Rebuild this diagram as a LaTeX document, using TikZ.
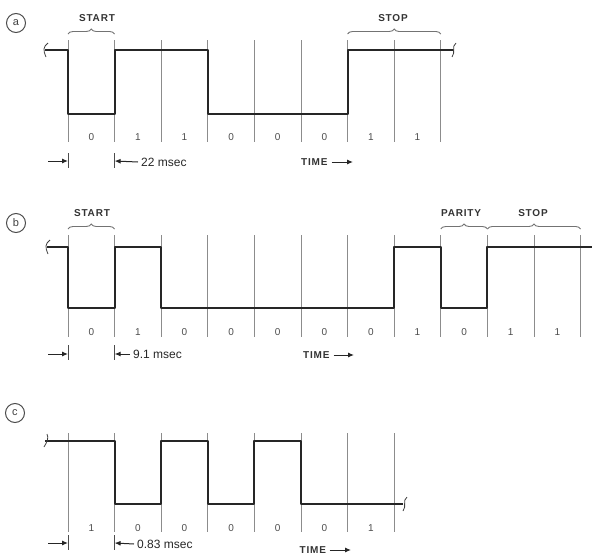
\documentclass[tikz,border=0pt]{standalone}
\usepackage{fontspec}
\setmainfont{Liberation Sans}
\usetikzlibrary{arrows.meta,decorations.pathreplacing}

\begin{document}
\begin{tikzpicture}[x=1pt,y=-1pt,
    grid/.style={draw=black!45,line width=0.8pt},
    wave/.style={draw=black!85,line width=2pt,line join=round},
    brk/.style={draw=black!75,line width=0.8pt},
    bracket/.style={draw=black!55,line width=0.9pt,decorate,
      decoration={brace,amplitude=5pt}},
    dim/.style={draw=black!85,line width=1pt,-{Latex[length=6pt,width=5pt]}},
    tick/.style={draw=black!70,line width=0.9pt},
    bit/.style={font=\fontsize{10}{11}\selectfont,text=black!70},
    lbl/.style={font=\fontsize{10}{12}\bfseries\addfontfeature{LetterSpace=8},text=black!80},
    msec/.style={font=\fontsize{12}{13}\selectfont,text=black!85,anchor=west,inner sep=1pt},
    tag/.style={circle,draw=black!70,line width=1pt,minimum size=19pt,inner sep=0pt,
      font=\fontsize{11}{11}\selectfont,text=black!75}]

  \useasboundingbox (0,0) rectangle (592,557);

  % (a)
  \node[tag] (a) at (16,23) {a};
  \foreach \k in {0,...,8}
    \draw[grid] ({68+46.6*\k},40) -- ({68+46.6*\k},142);
  \foreach \b [count=\k from 0] in {0,1,1,0,0,0,1,1}
    \node[bit] (abit\k) at ({91.3+46.6*\k},137) {\b};
  \draw[wave] (45,50) -| (68,114) -| (114.6,50) -| (207.8,114) -| (347.6,50) -- (453,50);
  \draw[brk] (48,43) .. controls (43,47) and (43,50) .. (46,57);
  \draw[brk] (456,43) .. controls (451,47) and (456,52) .. (452,57);
  \draw[bracket] (68,34) -- (114.6,34);
  \draw[bracket] (347.6,34) -- (440.8,34);
  \node[lbl] (astart) at (97,18) {START};
  \node[lbl] (astop) at (393,18) {STOP};
  \coordinate (ad1) at (48,161);
  \coordinate (ad2) at (68,161);
  \coordinate (ad3) at (114.6,161);
  \draw[tick] (68,153) -- (68,168);
  \draw[tick] (114.6,153) -- (114.6,168);
  \draw[dim] (ad1) -- (ad2);
  \node[msec] (amsec) at (138,162) {\,22 msec};
  \draw[dim] (amsec.west) -- (ad3);
  \node[lbl,anchor=west,inner sep=1pt] (atime) at (300,162) {TIME};
  \coordinate (atip) at (353,162);
  \draw[dim] (atime.east) ++(3,0) coordinate (atail) (atail) -- (atip);

  % (b)
  \node[tag] (b) at (16,223) {b};
  \foreach \k in {0,...,11}
    \draw[grid] ({68+46.6*\k},235) -- ({68+46.6*\k},337);
  \foreach \b [count=\k from 0] in {0,1,0,0,0,0,0,1,0,1,1}
    \node[bit] (bbit\k) at ({91.3+46.6*\k},332) {\b};
  \draw[wave] (47,247) -| (68,308) -| (114.6,247) -| (161.2,308) -| (394.2,247)
    -| (440.8,308) -| (487.4,247) -- (592,247);
  \draw[brk] (50,240) .. controls (45,244) and (45,247) .. (48,254);
  \draw[bracket] (68,229) -- (114.6,229);
  \draw[bracket] (440.8,229) -- (487.4,229);
  \draw[bracket] (487.4,229) -- (580.6,229);
  \node[lbl] (bstart) at (92,213) {START};
  \node[lbl] (bparity) at (461,213) {PARITY};
  \node[lbl] (bstop) at (533,213) {STOP};
  \coordinate (bd1) at (48,354);
  \coordinate (bd2) at (68,354);
  \coordinate (bd3) at (114.6,354);
  \draw[tick] (68,345) -- (68,360);
  \draw[tick] (114.6,345) -- (114.6,360);
  \draw[dim] (bd1) -- (bd2);
  \node[msec] (bmsec) at (130,354) {\,9.1 msec};
  \draw[dim] (bmsec.west) -- (bd3);
  \node[lbl,anchor=west,inner sep=1pt] (btime) at (302,355) {TIME};
  \coordinate (btip) at (354,355);
  \draw[dim] (btime.east) ++(3,0) coordinate (btail) (btail) -- (btip);

  % (c)
  \node[tag] (c) at (15,413) {c};
  \foreach \k in {0,...,7}
    \draw[grid] ({68+46.6*\k},433) -- ({68+46.6*\k},532);
  \foreach \b [count=\k from 0] in {1,0,0,0,0,0,1}
    \node[bit] (cbit\k) at ({91.3+46.6*\k},528) {\b};
  \draw[wave] (45,441) -| (114.6,504) -| (161.2,441) -| (207.8,504) -| (254.4,441)
    -| (301,504) -- (403,504);
  \draw[brk] (47,434) .. controls (49,438) and (47,442) .. (44,447);
  \draw[brk] (407,497) .. controls (402,501) and (407,506) .. (403,511);
  \coordinate (cd1) at (48,543);
  \coordinate (cd2) at (68,543);
  \coordinate (cd3) at (114.6,543);
  \draw[tick] (68,535) -- (68,550);
  \draw[tick] (114.6,535) -- (114.6,550);
  \draw[dim] (cd1) -- (cd2);
  \node[msec] (cmsec) at (134,544) {\,0.83 msec};
  \draw[dim] (cmsec.west) -- (cd3);
  \node[lbl,anchor=west,inner sep=0.5pt] (ctime) at (299,550) {TIME};
  \coordinate (ctip) at (351,550);
  \draw[dim] (ctime.east) ++(3,0) coordinate (ctail) (ctail) -- (ctip);

\end{tikzpicture}
\end{document}
